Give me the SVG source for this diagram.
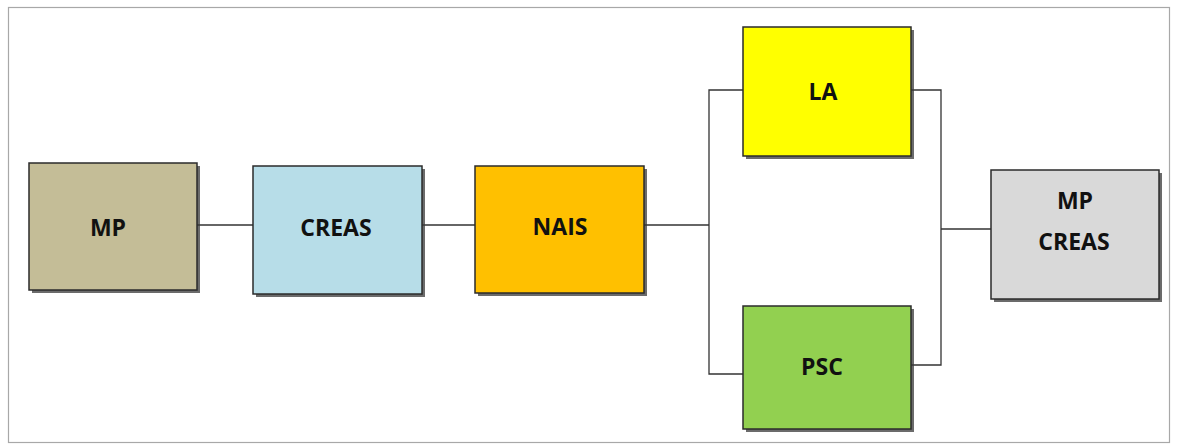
<svg xmlns="http://www.w3.org/2000/svg" width="1181" height="445" viewBox="0 0 1181 445">
<style>
.box{stroke:#2b2b2b;stroke-width:1.5}
.sh{fill:#3a3a3a;opacity:0.75}
.lbl{font-family:"Open Sans","Liberation Sans",sans-serif;font-weight:bold;font-size:23px;fill:#111;text-anchor:middle}
.con{fill:none;stroke:#333;stroke-width:1.3}
</style>
<rect x="0" y="0" width="1181" height="445" fill="#fff"/>
<rect x="8.5" y="7.5" width="1161" height="435" fill="#fff" stroke="#a8a8a8" stroke-width="1.2"/>
<g id="connectors">
<line class="con" x1="197" y1="225" x2="253" y2="225"/>
<line class="con" x1="422" y1="225" x2="475" y2="225"/>
<polyline class="con" points="644,225 709,225"/>
<polyline class="con" points="743,90 709,90 709,374 743,374"/>
<polyline class="con" points="911,90 941,90 941,365 911,365"/>
<line class="con" x1="941" y1="229" x2="991" y2="229"/>
</g>
<g id="node-mp">
<rect class="sh" x="32" y="166" width="168" height="127"/>
<rect class="box" x="29" y="163" width="168" height="127" fill="#c4bd97"/>
<text class="lbl" x="108" y="236">MP</text>
</g>
<g id="node-creas">
<rect class="sh" x="256" y="169" width="169" height="128"/>
<rect class="box" x="253" y="166" width="169" height="128" fill="#b7dde8"/>
<text class="lbl" x="336" y="236">CREAS</text>
</g>
<g id="node-nais">
<rect class="sh" x="478" y="169" width="169" height="127"/>
<rect class="box" x="475" y="166" width="169" height="127" fill="#ffc000"/>
<text class="lbl" x="560" y="235">NAIS</text>
</g>
<g id="node-la">
<rect class="sh" x="746" y="30" width="168" height="129"/>
<rect class="box" x="743" y="27" width="168" height="129" fill="#ffff00"/>
<text class="lbl" x="823" y="100">LA</text>
</g>
<g id="node-psc">
<rect class="sh" x="746" y="309" width="168" height="123"/>
<rect class="box" x="743" y="306" width="168" height="123" fill="#92d050"/>
<text class="lbl" x="822" y="375">PSC</text>
</g>
<g id="node-mpcreas">
<rect class="sh" x="994" y="173" width="168" height="129"/>
<rect class="box" x="991" y="170" width="168" height="129" fill="#d9d9d9"/>
<text class="lbl" x="1075" y="209">MP</text>
<text class="lbl" x="1074" y="250">CREAS</text>
</g>
</svg>
